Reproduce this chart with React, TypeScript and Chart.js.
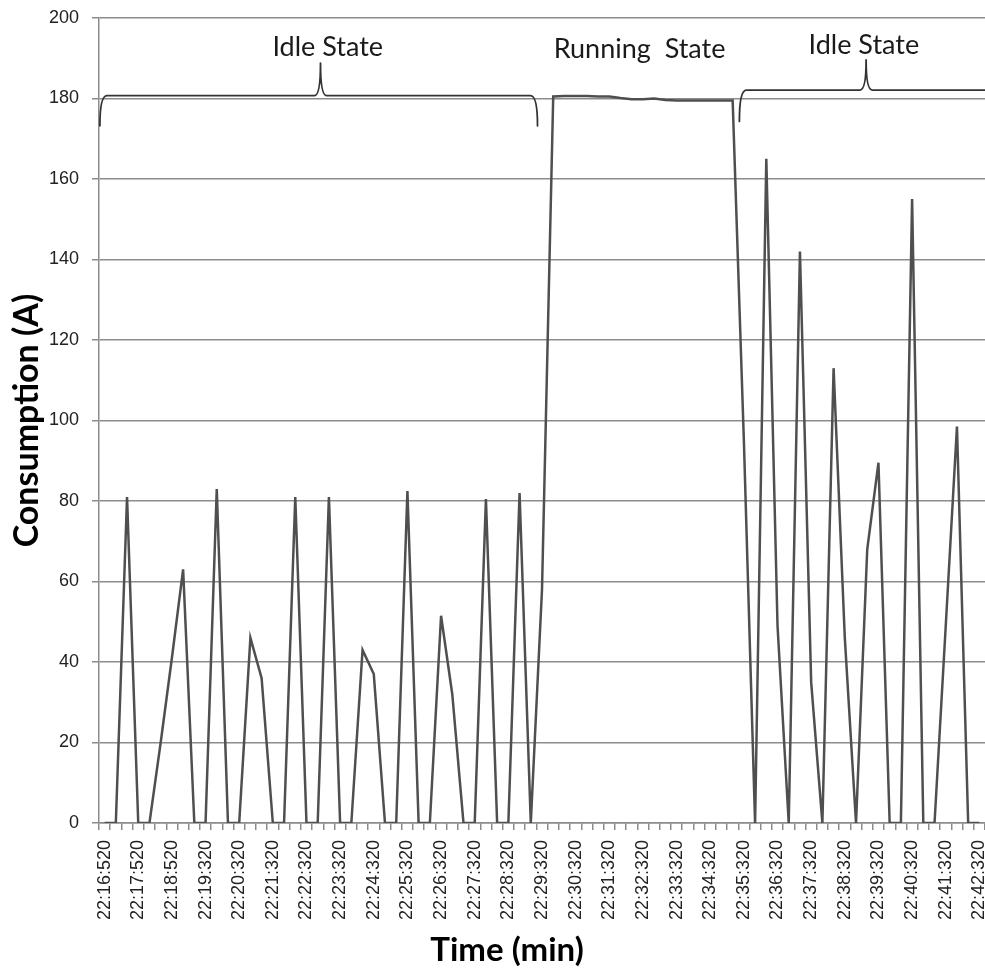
import React, { useEffect, useRef } from 'react';
import { Chart, registerables } from 'chart.js';

Chart.register(...registerables);

// Tick labels shown every third sample
const tickLabels = [
  '22:16:520', '22:17:520', '22:18:520', '22:19:320', '22:20:320', '22:21:320',
  '22:22:320', '22:23:320', '22:24:320', '22:25:320', '22:26:320', '22:27:320',
  '22:28:320', '22:29:320', '22:30:320', '22:31:320', '22:32:320', '22:33:320',
  '22:34:320', '22:35:320', '22:36:320', '22:37:320', '22:38:320', '22:39:320',
  '22:40:320', '22:41:320', '22:42:320',
];

const samplesPerTick = 3;

// Consumption (A), one value per sample
const consumption = [
  0, 0, 81, 0, 0, 20, 41, 63, 0, 0,
  83, 0, 0, 46, 36, 0, 0, 81, 0, 0,
  81, 0, 0, 43, 37, 0, 0, 82.5, 0, 0,
  51.5, 32, 0, 0, 80.5, 0, 0, 82, 0, 58,
  180.5, 180.6, 180.6, 180.6, 180.5, 180.5, 180.1, 179.8, 179.8, 180.0,
  179.6, 179.5, 179.5, 179.5, 179.5, 179.5, 179.5, 95, 0, 165,
  49, 0, 142, 35, 0, 113, 46, 0, 68, 89.5,
  0, 0, 155, 0, 0, 49, 98.5, 0, 0,
];

const categories = consumption.map((_, i) =>
  i % samplesPerTick === 0 ? tickLabels[i / samplesPerTick] : ''
);

const stateNames = ['Idle State', 'Running  State', 'Idle State'];
const xTitle = 'Time (min)';

const GRID = '#8c8c8c';

const stateAnnotations = {
  id: 'stateAnnotations',
  afterDatasetsDraw(chart: any) {
    const { ctx, chartArea } = chart;
    const xs = chart.scales.x;
    const ys = chart.scales.y;
    const x0 = xs.getPixelForValue(0);
    const step = xs.getPixelForValue(1) - x0;
    const px = (i: number) => x0 + i * step;
    const py = (v: number) => ys.getPixelForValue(v);

    ctx.save();
    ctx.strokeStyle = '#333333';
    ctx.lineWidth = 1.8;
    ctx.lineCap = 'round';
    ctx.lineJoin = 'round';

    const brace = (a: number, b: number, peak: number, base: number, tip: number, top: number, closeRight: boolean) => {
      const xa = px(a), xb = px(b), xp = px(peak);
      const yb = py(base), yt = py(tip), ytop = py(top);
      const r = 7, rp = 6;
      ctx.beginPath();
      ctx.moveTo(xa, yt);
      ctx.quadraticCurveTo(xa, yb, xa + r, yb);
      ctx.lineTo(xp - rp, yb);
      ctx.quadraticCurveTo(xp, yb, xp, ytop);
      ctx.quadraticCurveTo(xp, yb, xp + rp, yb);
      if (closeRight) {
        ctx.lineTo(xb - r, yb);
        ctx.quadraticCurveTo(xb, yb, xb, yt);
      } else {
        ctx.lineTo(xb, yb);
      }
      ctx.stroke();
    };

    brace(-0.42, 38.6, 19.25, 180.7, 173.2, 188.8, true);
    brace(56.6, 79.5, 67.9, 182.1, 174.3, 189.6, false);

    ctx.fillStyle = '#1a1a1a';
    ctx.font = '27px Lato';
    ctx.textAlign = 'center';
    ctx.textBaseline = 'alphabetic';
    ctx.fillText(stateNames[0], px(19.9), py(190.6));
    ctx.fillText(stateNames[1], px(47.7), py(190.1));
    ctx.fillText(stateNames[2], px(67.7), py(191.05));

    // x-axis title, placed slightly left of the plot centre as in the source
    ctx.fillStyle = '#000000';
    ctx.font = 'bold 33px Lato';
    ctx.textBaseline = 'middle';
    ctx.fillText(xTitle, (chartArea.left + chartArea.right) / 2 - 35, chart.height - 23);
    ctx.restore();
  },
};

export default function App() {
  const canvasRef = useRef<HTMLCanvasElement | null>(null);

  useEffect(() => {
    document.body.style.margin = '0';
    const canvas = canvasRef.current;
    if (!canvas) return;
    const chart = new Chart(canvas, {
      type: 'line',
      data: {
        labels: categories,
        datasets: [
          {
            data: consumption,
            borderColor: '#4f4f4f',
            borderWidth: 2.5,
            pointRadius: 0,
            tension: 0,
            fill: false,
          },
        ],
      },
      options: {
        animation: false,
        responsive: false,
        devicePixelRatio: 1,
        layout: { padding: { top: 18, left: 0, right: 0, bottom: 0 } },
        plugins: {
          legend: { display: false },
          tooltip: { enabled: false },
        },
        scales: {
          x: {
            type: 'category',
            offset: true,
            grid: {
              offset: true,
              drawOnChartArea: false,
              drawTicks: true,
              tickLength: 7,
              color: GRID,
              lineWidth: 1.5,
            },
            border: { display: true, color: GRID, width: 1.5 },
            ticks: {
              autoSkip: false,
              maxRotation: 90,
              minRotation: 90,
              padding: 10,
              color: '#222222',
              font: { family: 'Liberation Sans', size: 18 },
              callback: (_v: any, idx: number) => categories[idx],
            },
            title: { display: false },
            afterFit: (scale: any) => {
              scale.height = 150;
              scale.paddingLeft = 0;
              scale.paddingRight = 0;
            },
          },
          y: {
            min: 0,
            max: 200,
            ticks: {
              stepSize: 20,
              padding: 13,
              color: '#222222',
              font: { family: 'Liberation Sans', size: 18 },
            },
            grid: {
              color: GRID,
              lineWidth: 1.5,
              drawTicks: true,
              tickLength: 7,
            },
            border: { display: true, color: GRID, width: 1.5 },
            title: {
              display: true,
              text: 'Consumption (A)',
              color: '#000000',
              font: { family: 'Lato', size: 34, weight: 'bold', lineHeight: 1.2 },
              padding: { top: 7, bottom: 0 },
            },
            afterFit: (scale: any) => {
              scale.width = 99;
              scale.paddingTop = 0;
              scale.paddingBottom = 0;
            },
          },
        },
      },
      plugins: [stateAnnotations],
    });
    return () => chart.destroy();
  }, []);

  return (
    <div style={{ width: 985, height: 973 }}>
      <canvas ref={canvasRef} width={985} height={973} />
    </div>
  );
}
